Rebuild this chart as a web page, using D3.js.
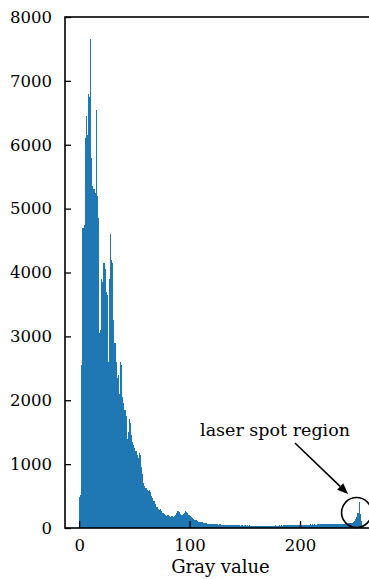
<!DOCTYPE html>
<html><head><meta charset="utf-8">
<script src="https://cdn.jsdelivr.net/npm/d3@7/dist/d3.min.js"></script>
<style>body{margin:0;background:#fff}svg{display:block}</style>
</head><body><svg id="c" width="369" height="579"></svg>
<script>
// histogram counts per gray value (index = gray value)
const peakCounts = [480, 520, 2550, 4700, 4750, 6100, 6450, 6150, 6800, 6750,
  7650, 5800, 5350, 5300, 5250, 6550, 5200, 4850, 3050, 3100,
  3900, 3850, 4150, 4050, 3700, 3650, 2600, 3900, 4600, 4200,
  4150, 3250, 2900, 2600, 2350, 2400, 2100, 2600, 2550, 2050,
  1950, 1850, 1750, 1400, 1500, 1700, 1650, 1450, 1350, 1300,
  1250, 1200, 1150, 1100, 1180, 1150, 950, 850, 700, 650, 620];
const tailCounts = [600, 580, 600, 560, 500, 470, 430, 420, 380, 330,
  300, 280, 290, 260, 240, 230, 220, 200, 190, 200,
  190, 180, 195, 185, 180, 190, 210, 240, 260, 250,
  220, 210, 200, 220, 240, 260, 250, 230, 210, 190,
  170, 150, 140, 130, 125, 120, 110, 100, 100, 90,
  90, 85, 80, 80, 75, 70, 70, 65, 65, 60];
const flatCounts = [62, 58, 64, 55, 60, 52, 57, 50, 54, 48,
  52, 47, 50, 45, 49, 44, 47, 42, 46, 43,
  45, 40, 44, 41, 43, 39, 42, 38, 41, 40,
  38, 42, 37, 40, 36, 39, 35, 38, 36, 37,
  34, 38, 35, 37, 33, 36, 34, 38, 35, 36,
  37, 34, 39, 35, 38, 36, 40, 37, 39, 36,
  41, 38, 42, 39, 44, 40, 43, 41, 45, 42,
  46, 43, 47, 44, 48, 45, 49, 46, 50, 47,
  51, 48, 52, 49, 53, 50, 54, 51, 55, 52,
  56, 53, 57, 54, 58, 55, 59, 56, 60, 57,
  61, 58, 62, 59, 63, 60, 64, 61, 65, 62,
  66, 63, 67, 64, 68, 65, 69, 66, 70, 67,
  72, 70, 75, 73, 78];
const spotCounts = [80, 85, 95, 110, 140, 170, 240, 410, 220, 110];

const xTicks = [0, 100, 200];
const yTicks = [0, 1000, 2000, 3000, 4000, 5000, 6000, 7000, 8000];
const xLabel = "Gray value";
const annText = "laser spot region";
// annotation anchors in data coordinates
const annTextPos = [177.4, 1440];
const arrowFrom = [195.4, 1331];
const arrowTo = [243.5, 532];
const circleAt = [251.2, 243];

const counts = [].concat(peakCounts, tailCounts, flatCounts, spotCounts);

const svg = d3.select("#c");
const mLeft = 65, mRight = 376, mTop = 17, mBottom = 528;
const font = "DejaVu Serif";
const x = d3.scaleLinear().domain([-12.8, 268.8]).range([mLeft, mRight]);
const y = d3.scaleLinear().domain([0, 8000]).range([mBottom, mTop]);

svg.append("g").attr("shape-rendering", "crispEdges")
  .selectAll("rect").data(counts).join("rect")
  .attr("x", (d, i) => x(i))
  .attr("width", (d, i) => x(i + 1) - x(i))
  .attr("y", d => y(d))
  .attr("height", d => y(0) - y(d))
  .attr("fill", "#1f77b4");

const gx = svg.append("g").attr("transform", `translate(0,${mBottom})`)
  .call(d3.axisBottom(x).tickValues(xTicks).tickSize(-7).tickPadding(11).tickFormat(d3.format("d")));
gx.select(".domain").remove();
gx.selectAll("line").attr("stroke", "#000").attr("stroke-width", 1.3);
gx.selectAll("text").attr("font-family", font).attr("font-size", 16.5).attr("fill", "#000");

const gy = svg.append("g").attr("transform", `translate(${mLeft},0)`)
  .call(d3.axisLeft(y).tickValues(yTicks).tickSize(-6).tickPadding(13).tickFormat(d3.format("d")));
gy.select(".domain").remove();
gy.selectAll("line").attr("stroke", "#000").attr("stroke-width", 1.3);
gy.selectAll("text").attr("font-family", font).attr("font-size", 16.5).attr("fill", "#000");

svg.append("rect").attr("x", mLeft).attr("y", mTop)
  .attr("width", mRight - mLeft).attr("height", mBottom - mTop)
  .attr("fill", "none").attr("stroke", "#000").attr("stroke-width", 1.6);

svg.append("text").attr("x", (mLeft + mRight) / 2).attr("y", 573)
  .attr("text-anchor", "middle").attr("font-family", font).attr("font-size", 18)
  .attr("fill", "#000").text(xLabel);

// annotation
svg.append("text").attr("x", x(annTextPos[0])).attr("y", y(annTextPos[1]))
  .attr("text-anchor", "middle").attr("font-family", font).attr("font-size", 17.5)
  .attr("fill", "#000").text(annText);

const x1 = x(arrowFrom[0]), y1 = y(arrowFrom[1]), x2 = x(arrowTo[0]), y2 = y(arrowTo[1]);
const ang = Math.atan2(y2 - y1, x2 - x1);
const hl = 11, hw = 4.5;
const bx = x2 - hl * Math.cos(ang), by = y2 - hl * Math.sin(ang);
svg.append("line").attr("x1", x1).attr("y1", y1).attr("x2", bx).attr("y2", by)
  .attr("stroke", "#000").attr("stroke-width", 1.6);
svg.append("path").attr("d", `M${x2},${y2}L${bx - hw * Math.sin(ang)},${by + hw * Math.cos(ang)}L${bx + hw * Math.sin(ang)},${by - hw * Math.cos(ang)}Z`)
  .attr("fill", "#000");

svg.append("circle").attr("cx", x(circleAt[0])).attr("cy", y(circleAt[1])).attr("r", 15)
  .attr("fill", "none").attr("stroke", "#000").attr("stroke-width", 1.6);
</script></body></html>
